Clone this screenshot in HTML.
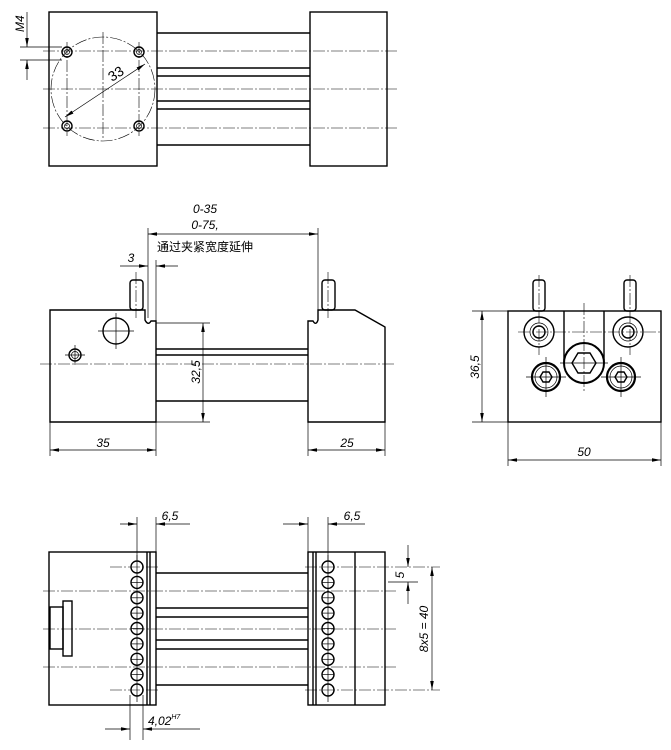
<!DOCTYPE html>
<html><head><meta charset="utf-8"><style>
html,body{margin:0;padding:0;background:#fff}
svg{display:block}
text{font-family:"Liberation Sans","Noto Sans CJK SC",sans-serif;font-style:italic;font-size:12px;fill:#000}
.o{stroke:#000;stroke-width:1.4;fill:none}
.t{stroke:#000;stroke-width:0.7;fill:none}
.c{stroke:#000;stroke-width:0.6;fill:none;stroke-dasharray:12,2,2,2}
</style></head><body>
<svg width="671" height="750" viewBox="0 0 671 750" xmlns="http://www.w3.org/2000/svg">
<defs><marker id="a" viewBox="0 0 10 4" refX="10" refY="2" markerWidth="9" markerHeight="3.6" markerUnits="userSpaceOnUse" orient="auto-start-reverse"><path d="M0,0L10,2L0,4z"/></marker></defs>

<!-- TOP VIEW -->
<rect class="o" x="49" y="12" width="108" height="154"/>
<rect class="o" x="310" y="12" width="77" height="154"/>
<line class="o" x1="157" y1="33" x2="310" y2="33"/>
<line class="o" x1="157" y1="145" x2="310" y2="145"/>
<line class="o" x1="157" y1="68" x2="310" y2="68"/><line class="o" x1="157" y1="76" x2="310" y2="76"/>
<line class="o" x1="157" y1="101" x2="310" y2="101"/><line class="o" x1="157" y1="109" x2="310" y2="109"/>
<line class="c" x1="43" y1="51" x2="397" y2="51"/>
<line class="c" x1="43" y1="89" x2="397" y2="89"/>
<line class="c" x1="43" y1="128" x2="397" y2="128"/>
<circle class="c" cx="103" cy="89" r="52"/>
<line class="c" x1="103" y1="32" x2="103" y2="140"/>
<line class="c" x1="67" y1="42" x2="67" y2="136"/>
<line class="c" x1="139" y1="42" x2="139" y2="136"/>
<g class="o"><circle cx="67" cy="52" r="5"/><circle cx="139" cy="52" r="5"/><circle cx="67" cy="126" r="5"/><circle cx="139" cy="126" r="5"/></g>
<g class="t"><circle cx="67" cy="52" r="2.5"/><circle cx="139" cy="52" r="2.5"/><circle cx="67" cy="126" r="2.5"/><circle cx="139" cy="126" r="2.5"/></g>
<line class="t" x1="65" y1="117" x2="145" y2="64" marker-start="url(#a)" marker-end="url(#a)"/>
<text x="112" y="82" transform="rotate(-33 112 82)" style="font-style:normal;font-size:14px">33</text>
<line class="t" x1="20" y1="47" x2="62" y2="47"/><line class="t" x1="20" y1="60" x2="62" y2="60"/>
<line class="t" x1="27" y1="12" x2="27" y2="47" marker-end="url(#a)"/>
<line class="t" x1="27" y1="80" x2="27" y2="60" marker-end="url(#a)"/>
<text x="24" y="32" transform="rotate(-90 24 32)">M4</text>

<!-- FRONT VIEW -->
<path class="o" d="M50,310 L145,310 L145,320 Q148,326 151,321 L156,321 L156,422 L50,422 Z"/>
<rect class="o" x="130" y="280" width="13" height="30" rx="3"/>
<rect class="o" x="322" y="280" width="13" height="30" rx="3"/>
<path class="o" d="M308,321 L313,321 Q316,326 318,320 L318,310 L355,310 L385,327 L385,422 L308,422 Z"/>
<line class="o" x1="156" y1="349" x2="308" y2="349"/><line class="o" x1="156" y1="355" x2="308" y2="355"/>
<line class="o" x1="156" y1="401" x2="308" y2="401"/>
<line class="c" x1="40" y1="364" x2="395" y2="364"/>
<line class="c" x1="136" y1="272" x2="136" y2="318"/><line class="c" x1="328" y1="272" x2="328" y2="318"/>
<circle class="o" cx="116" cy="331" r="13"/>
<line class="t" x1="98" y1="331" x2="134" y2="331"/><line class="t" x1="116" y1="313" x2="116" y2="349"/>
<circle class="o" cx="75" cy="355" r="6"/><circle class="t" cx="75" cy="355" r="3.5"/>
<line class="t" x1="65" y1="355" x2="85" y2="355"/><line class="t" x1="75" y1="345" x2="75" y2="365"/>
<line class="t" x1="148" y1="228" x2="148" y2="318"/><line class="t" x1="318" y1="228" x2="318" y2="318"/>
<line class="t" x1="148" y1="234" x2="318" y2="234" marker-start="url(#a)" marker-end="url(#a)"/>
<text x="205" y="213" text-anchor="middle">0-35</text>
<text x="205" y="229" text-anchor="middle">0-75,</text>
<text x="205" y="251" text-anchor="middle" style="font-style:normal">通过夹紧宽度延伸</text>
<line class="t" x1="156" y1="260" x2="156" y2="322"/>
<line class="t" x1="120" y1="266" x2="148" y2="266" marker-end="url(#a)"/>
<line class="t" x1="178" y1="266" x2="156" y2="266" marker-end="url(#a)"/>
<text x="131" y="262" text-anchor="middle">3</text>
<line class="t" x1="156" y1="323" x2="210" y2="323"/><line class="t" x1="156" y1="422" x2="210" y2="422"/>
<line class="t" x1="203" y1="323" x2="203" y2="422" marker-start="url(#a)" marker-end="url(#a)"/>
<text x="200" y="372" text-anchor="middle" transform="rotate(-90 200 372)">32,5</text>
<line class="t" x1="50" y1="422" x2="50" y2="456"/><line class="t" x1="156" y1="422" x2="156" y2="456"/>
<line class="t" x1="308" y1="422" x2="308" y2="456"/><line class="t" x1="385" y1="422" x2="385" y2="456"/>
<line class="t" x1="50" y1="450" x2="156" y2="450" marker-start="url(#a)" marker-end="url(#a)"/>
<line class="t" x1="308" y1="450" x2="385" y2="450" marker-start="url(#a)" marker-end="url(#a)"/>
<text x="103" y="447" text-anchor="middle">35</text>
<text x="347" y="447" text-anchor="middle">25</text>

<!-- SIDE VIEW -->
<rect class="o" x="508" y="311" width="153" height="111"/>
<rect class="o" x="533" y="280" width="12" height="31" rx="3"/>
<rect class="o" x="624" y="280" width="12" height="31" rx="3"/>
<line class="c" x1="539" y1="275" x2="539" y2="355"/><line class="c" x1="630" y1="275" x2="630" y2="355"/>
<line class="o" x1="564" y1="311" x2="564" y2="362"/><line class="o" x1="604" y1="311" x2="604" y2="362"/>
<line class="c" x1="584" y1="303" x2="584" y2="392"/>
<line class="c" x1="518" y1="332" x2="661" y2="332"/>
<circle class="o" cx="539" cy="332" r="15"/><circle class="t" cx="539" cy="332" r="9"/><circle class="o" cx="539" cy="332" r="6"/>
<circle class="o" cx="628" cy="332" r="15"/><circle class="t" cx="628" cy="332" r="9"/><circle class="o" cx="628" cy="332" r="6"/>
<circle class="o" cx="584" cy="363" r="20" style="stroke-width:2"/>
<polygon class="o" points="572,363 578,353 590,353 596,363 590,373 578,373"/>
<line class="t" x1="560" y1="363" x2="608" y2="363"/>
<circle class="o" cx="546" cy="377" r="14" style="stroke-width:2.2"/><circle class="t" cx="546" cy="377" r="11"/>
<polygon class="o" points="540,377 543,372 549,372 552,377 549,382 543,382"/>
<circle class="o" cx="621" cy="377" r="14" style="stroke-width:2.2"/><circle class="t" cx="621" cy="377" r="11"/>
<polygon class="o" points="615,377 618,372 624,372 627,377 624,382 618,382"/>
<line class="t" x1="526" y1="377" x2="566" y2="377"/><line class="t" x1="546" y1="357" x2="546" y2="397"/>
<line class="t" x1="601" y1="377" x2="641" y2="377"/><line class="t" x1="621" y1="357" x2="621" y2="397"/>
<line class="t" x1="472" y1="311" x2="508" y2="311"/><line class="t" x1="472" y1="422" x2="508" y2="422"/>
<line class="t" x1="482" y1="311" x2="482" y2="422" marker-start="url(#a)" marker-end="url(#a)"/>
<text x="479" y="367" text-anchor="middle" transform="rotate(-90 479 367)">36,5</text>
<line class="t" x1="508" y1="422" x2="508" y2="466"/><line class="t" x1="661" y1="422" x2="661" y2="466"/>
<line class="t" x1="508" y1="460" x2="661" y2="460" marker-start="url(#a)" marker-end="url(#a)"/>
<text x="584" y="456" text-anchor="middle">50</text>

<!-- BOTTOM VIEW -->
<rect class="o" x="49" y="552" width="107" height="153"/>
<line class="o" x1="147" y1="552" x2="147" y2="705"/><line class="o" x1="150" y1="552" x2="150" y2="705"/>
<rect class="o" x="308" y="552" width="77" height="153"/>
<line class="o" x1="313" y1="552" x2="313" y2="705"/><line class="o" x1="316" y1="552" x2="316" y2="705"/>
<line class="o" x1="355" y1="552" x2="355" y2="705"/>
<line class="o" x1="156" y1="573" x2="308" y2="573"/>
<line class="o" x1="156" y1="608" x2="308" y2="608"/><line class="o" x1="156" y1="617" x2="308" y2="617"/>
<line class="o" x1="156" y1="640" x2="308" y2="640"/><line class="o" x1="156" y1="649" x2="308" y2="649"/>
<line class="o" x1="156" y1="685" x2="308" y2="685"/>
<rect class="o" x="50" y="607" width="13" height="42"/>
<rect class="o" x="63" y="601" width="9" height="55"/>
<line class="c" x1="43" y1="591" x2="396" y2="591"/>
<line class="c" x1="43" y1="629" x2="396" y2="629"/>
<line class="c" x1="43" y1="667" x2="396" y2="667"/>
<line class="c" x1="110" y1="567" x2="160" y2="567"/><line class="c" x1="110" y1="690" x2="160" y2="690"/>
<line class="c" x1="305" y1="567" x2="440" y2="567"/><line class="c" x1="305" y1="690" x2="440" y2="690"/>
<g class="o">
<circle cx="137" cy="567" r="6"/><circle cx="137" cy="582.4" r="6"/><circle cx="137" cy="597.8" r="6"/><circle cx="137" cy="613.1" r="6"/><circle cx="137" cy="628.5" r="6"/><circle cx="137" cy="643.9" r="6"/><circle cx="137" cy="659.3" r="6"/><circle cx="137" cy="674.6" r="6"/><circle cx="137" cy="690" r="6"/>
<circle cx="328" cy="567" r="6"/><circle cx="328" cy="582.4" r="6"/><circle cx="328" cy="597.8" r="6"/><circle cx="328" cy="613.1" r="6"/><circle cx="328" cy="628.5" r="6"/><circle cx="328" cy="643.9" r="6"/><circle cx="328" cy="659.3" r="6"/><circle cx="328" cy="674.6" r="6"/><circle cx="328" cy="690" r="6"/>
</g>
<g class="t">
<line x1="137" y1="555" x2="137" y2="702"/><line x1="328" y1="555" x2="328" y2="702"/>
<line x1="131" y1="582.4" x2="143" y2="582.4"/><line x1="131" y1="597.8" x2="143" y2="597.8"/><line x1="131" y1="613.1" x2="143" y2="613.1"/><line x1="131" y1="628.5" x2="143" y2="628.5"/><line x1="131" y1="643.9" x2="143" y2="643.9"/><line x1="131" y1="659.3" x2="143" y2="659.3"/><line x1="131" y1="674.6" x2="143" y2="674.6"/>
<line x1="322" y1="582.4" x2="334" y2="582.4"/><line x1="322" y1="597.8" x2="334" y2="597.8"/><line x1="322" y1="613.1" x2="334" y2="613.1"/><line x1="322" y1="628.5" x2="334" y2="628.5"/><line x1="322" y1="643.9" x2="334" y2="643.9"/><line x1="322" y1="659.3" x2="334" y2="659.3"/><line x1="322" y1="674.6" x2="334" y2="674.6"/>
</g>
<line class="t" x1="137" y1="517" x2="137" y2="560"/><line class="t" x1="156" y1="517" x2="156" y2="552"/>
<line class="t" x1="120" y1="524" x2="137" y2="524" marker-end="url(#a)"/>
<line class="t" x1="190" y1="524" x2="156" y2="524" marker-end="url(#a)"/>
<text x="170" y="520" text-anchor="middle">6,5</text>
<line class="t" x1="308" y1="517" x2="308" y2="552"/><line class="t" x1="328" y1="517" x2="328" y2="560"/>
<line class="t" x1="283" y1="524" x2="308" y2="524" marker-end="url(#a)"/>
<line class="t" x1="365" y1="524" x2="328" y2="524" marker-end="url(#a)"/>
<text x="352" y="520" text-anchor="middle">6,5</text>
<line class="t" x1="130" y1="695" x2="130" y2="740"/><line class="t" x1="143" y1="695" x2="143" y2="740"/>
<line class="t" x1="105" y1="729" x2="130" y2="729" marker-end="url(#a)"/>
<line class="t" x1="200" y1="729" x2="143" y2="729" marker-end="url(#a)"/>
<text x="148" y="725">4,02<tspan dy="-6" font-size="7">H7</tspan></text>
<line class="t" x1="388" y1="582" x2="418" y2="582"/>
<line class="t" x1="408" y1="545" x2="408" y2="567" marker-end="url(#a)"/>
<line class="t" x1="408" y1="604" x2="408" y2="582" marker-end="url(#a)"/>
<text x="404" y="575" text-anchor="middle" transform="rotate(-90 404 575)">5</text>
<line class="t" x1="432" y1="567" x2="432" y2="690" marker-start="url(#a)" marker-end="url(#a)"/>
<text x="428" y="629" text-anchor="middle" transform="rotate(-90 428 629)">8x5 = 40</text>
</svg>
</body></html>
